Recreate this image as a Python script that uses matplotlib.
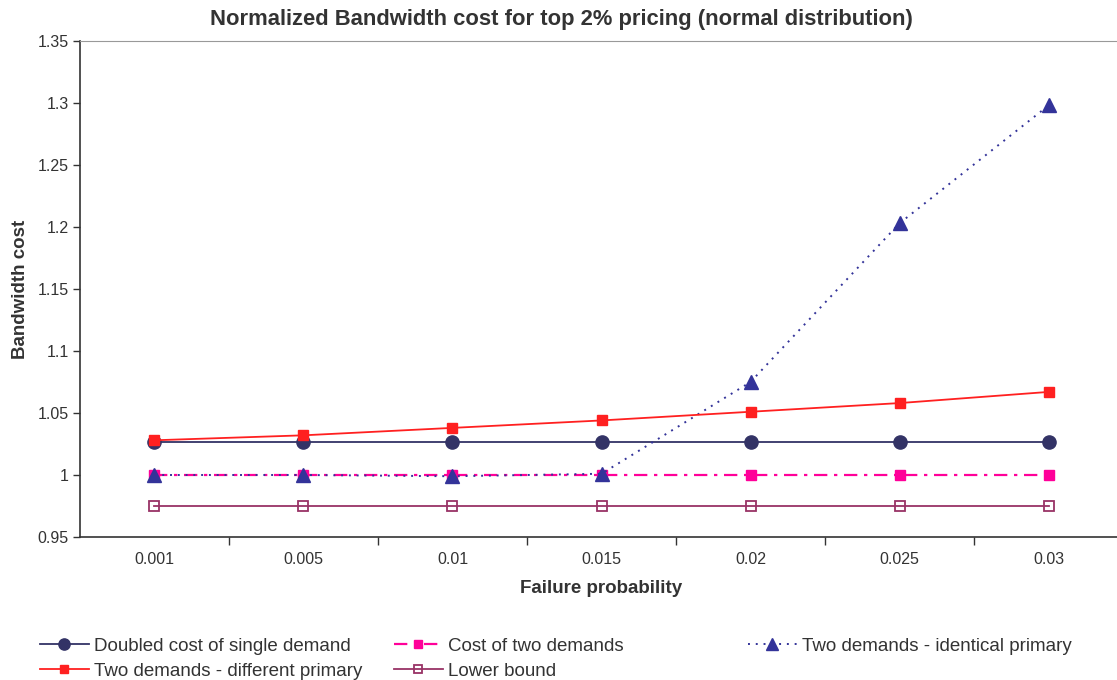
import matplotlib.pyplot as plt
from matplotlib.ticker import FixedLocator, NullFormatter

plt.rcParams['font.family'] = ['Liberation Sans', 'DejaVu Sans']

# failure probabilities on the x axis (categorical)
probabilities = ['0.001', '0.005', '0.01', '0.015', '0.02', '0.025', '0.03']

# normalized bandwidth cost for each scheme
doubled_single = [1.027, 1.027, 1.027, 1.027, 1.027, 1.027, 1.027]
two_demands = [1.000, 1.000, 1.000, 1.000, 1.000, 1.000, 1.000]
identical_primary = [1.000, 1.000, 0.999, 1.001, 1.075, 1.203, 1.298]
different_primary = [1.028, 1.032, 1.038, 1.044, 1.051, 1.058, 1.067]
lower_bound = [0.975, 0.975, 0.975, 0.975, 0.975, 0.975, 0.975]

x = list(range(len(probabilities)))

fig = plt.figure(figsize=(11.17, 6.8), dpi=100)
ax = fig.add_axes([0.0716, 0.2103, 0.9338, 0.7294])

l_doubled, = ax.plot(x, doubled_single, color='#333366', lw=1.3, marker='o',
                     markersize=9.5, label='Doubled cost of single demand')
l_two, = ax.plot(x, two_demands, color='#ff0099', lw=1.6, ls=(0, (6, 3, 1.5, 3)),
                 marker='s', markersize=6.5, label='Cost of two demands')
l_ident, = ax.plot(x, identical_primary, color='#333399', lw=1.4, ls=(0, (1, 3)),
                   marker='^', markersize=9.5, label='Two demands - identical primary')
l_diff, = ax.plot(x, different_primary, color='#ff2020', lw=1.3, marker='s',
                  markersize=6.5, label='Two demands - different primary')
l_lower, = ax.plot(x, lower_bound, color='#993366', lw=1.3, marker='s',
                   markersize=7.5, markerfacecolor='none', markeredgewidth=1.3,
                   label='Lower bound')

ax.set_xlim(-0.5, len(x) - 0.5)
ax.set_ylim(0.95, 1.35)
ax.set_yticks([0.95, 1.0, 1.05, 1.1, 1.15, 1.2, 1.25, 1.3, 1.35])
ax.set_yticklabels(['0.95', '1', '1.05', '1.1', '1.15', '1.2', '1.25', '1.3', '1.35'])

# category labels in the middle, tick marks between categories
ax.set_xticks(x)
ax.set_xticklabels(probabilities)
ax.tick_params(axis='x', which='major', length=0, pad=11)
ax.xaxis.set_minor_locator(FixedLocator([i + 0.5 for i in range(len(x) - 1)]))
ax.xaxis.set_minor_formatter(NullFormatter())
ax.tick_params(axis='x', which='minor', length=6, width=1, color='#333333')
ax.tick_params(axis='y', length=5, width=1, color='#333333', pad=3)
ax.tick_params(labelsize=11.5, labelcolor='#333333')

for side in ['left', 'bottom']:
    ax.spines[side].set_color('#333333')
    ax.spines[side].set_linewidth(1.2)
ax.spines['top'].set_color('#999999')
ax.spines['right'].set_color('#999999')

ax.set_xlabel('Failure probability', fontsize=13.5, fontweight='bold',
              color='#333333', labelpad=9)
ax.set_ylabel('Bandwidth cost', fontsize=13.5, fontweight='bold',
              color='#333333', labelpad=6)
fig.text(0.503, 0.972, 'Normalized Bandwidth cost for top 2% pricing (normal distribution)',
         ha='center', va='center', fontsize=15.8, fontweight='bold', color='#333333')

# legend split in three columns placed along the bottom
columns = [([l_doubled, l_diff], 0.029), ([l_two, l_lower], 0.346), ([l_ident], 0.663)]
for handles, xpos in columns:
    leg = fig.legend(handles=handles, loc='upper left', bbox_to_anchor=(xpos, 0.073),
                     frameon=False, fontsize=13.5, handlelength=2.6, handletextpad=0.3,
                     borderaxespad=0, labelspacing=0.42)
    for t in leg.get_texts():
        t.set_color('#333333')
    for h in leg.legend_handles:
        h.set_markersize(h.get_markersize() * 0.85)

fig.savefig('out.png', dpi=100)
